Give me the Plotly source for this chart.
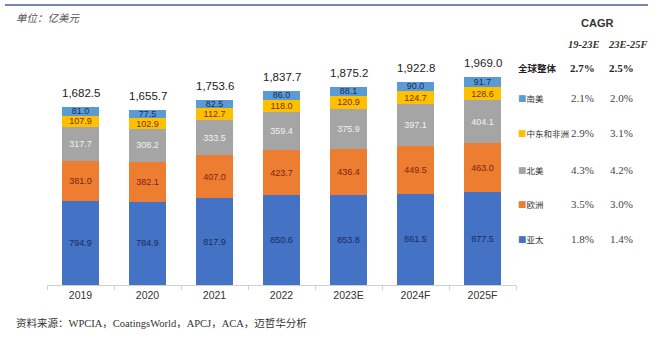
import plotly.graph_objects as go

years = ["2019", "2020", "2021", "2022", "2023E", "2024F", "2025F"]
asia_pacific = [794.9, 784.9, 817.9, 850.6, 853.8, 861.5, 877.5]
europe = [381.0, 382.1, 407.0, 423.7, 436.4, 449.5, 463.0]
north_america = [317.7, 308.2, 333.5, 359.4, 375.9, 397.1, 404.1]
mea = [107.9, 102.9, 112.7, 118.0, 120.9, 124.7, 128.6]
south_america = [81.0, 77.5, 82.5, 86.0, 88.1, 90.0, 91.7]
totals = [1682.5, 1655.7, 1753.6, 1837.7, 1875.2, 1922.8, 1969.0]

region_names = ["南美", "中东和非洲", "北美", "欧洲", "亚太"]
cagr_19_23 = ["2.1%", "2.9%", "4.3%", "3.5%", "1.8%"]
cagr_23_25 = ["2.0%", "3.1%", "4.2%", "3.0%", "1.4%"]
global_cagr = ["2.7%", "2.5%"]

W, H = 660, 339
PL, PR, PT, PB = 47, 516, 65, 285  # plot area in pixels


def px(x):
    return x / W


def py(y):
    return 1 - y / H


colors = {
    "亚太": "#4472C4",
    "欧洲": "#ED7D31",
    "北美": "#A5A5A5",
    "中东和非洲": "#FFC000",
    "南美": "#5B9BD5",
}
text_colors = {
    "亚太": "#1c2a5a",
    "欧洲": "#7a2410",
    "北美": "#f2f2f2",
    "中东和非洲": "#7a3000",
    "南美": "#1c2a5a",
}
series = [("亚太", asia_pacific), ("欧洲", europe), ("北美", north_america),
          ("中东和非洲", mea), ("南美", south_america)]

fig = go.Figure()
for name, vals in series:
    fig.add_trace(go.Bar(
        x=years, y=vals, name=name,
        marker=dict(color=colors[name], line=dict(width=0)),
        text=[f"{v:.1f}" for v in vals],
        textposition="inside", insidetextanchor="middle",
        textangle=0, constraintext="none",
        textfont=dict(size=9, color=text_colors[name], family="Liberation Sans, Arial"),
        hoverinfo="skip",
    ))

annotations = []
for i, tot in enumerate(totals):
    annotations.append(dict(
        x=i, y=tot, xref="x", yref="y", text=f"{tot:,.1f}", showarrow=False,
        yanchor="bottom", yshift=6,
        font=dict(size=11.5, color="#222222", family="Liberation Sans, Arial"),
    ))

cjk = "Noto Sans CJK SC"
serif = "Liberation Serif, Noto Sans CJK SC"

annotations.append(dict(x=px(14), y=py(18), xref="paper", yref="paper",
                        text="<i>单位：亿美元</i>", showarrow=False,
                        xanchor="left", yanchor="middle",
                        font=dict(size=10.5, color="#555555", family=cjk)))
annotations.append(dict(x=px(14), y=py(323), xref="paper", yref="paper",
                        text="资料来源：WPCIA，CoatingsWorld，APCJ，ACA，迈哲华分析",
                        showarrow=False, xanchor="left", yanchor="middle",
                        font=dict(size=10.5, color="#333333", family=serif)))

# CAGR table
annotations.append(dict(x=px(597), y=py(23), xref="paper", yref="paper",
                        text="<b>CAGR</b>", showarrow=False,
                        xanchor="center", yanchor="middle",
                        font=dict(size=11, color="#333333", family="Liberation Sans, Arial")))
for txt, cx in [("19-23E", 584), ("23E-25F", 628)]:
    annotations.append(dict(x=px(cx), y=py(45), xref="paper", yref="paper",
                            text=f"<b><i>{txt}</i></b>", showarrow=False,
                            xanchor="center", yanchor="middle",
                            font=dict(size=10.5, color="#333333", family=serif)))
annotations.append(dict(x=px(516), y=py(68), xref="paper", yref="paper",
                        text="<b>全球整体</b>", showarrow=False,
                        xanchor="left", yanchor="middle",
                        font=dict(size=9.5, color="#222222", family=cjk)))
for txt, cx in zip(global_cagr, [582, 621]):
    annotations.append(dict(x=px(cx), y=py(68), xref="paper", yref="paper",
                            text=f"<b>{txt}</b>", showarrow=False,
                            xanchor="center", yanchor="middle",
                            font=dict(size=11, color="#222222", family=serif)))

row_y = [98, 133, 170, 204, 239]
for name, a, b, ry in zip(region_names, cagr_19_23, cagr_23_25, row_y):
    annotations.append(dict(x=px(516), y=py(ry), xref="paper", yref="paper",
                            text=f"<span style='color:{colors[name]}'>■</span>{name}",
                            showarrow=False, xanchor="left", yanchor="middle",
                            font=dict(size=8.5, color="#333333", family=cjk)))
    for txt, cx in zip([a, b], [582, 621]):
        annotations.append(dict(x=px(cx), y=py(ry), xref="paper", yref="paper",
                                text=txt, showarrow=False,
                                xanchor="center", yanchor="middle",
                                font=dict(size=11, color="#444444", family=serif)))

shapes = [dict(type="line", xref="paper", yref="paper", layer="above",
               x0=px(5), x1=px(648), y0=py(5), y1=py(5),
               line=dict(color="#7486b0", width=2))]

fig.update_layout(
    width=W, height=H,
    margin=dict(l=0, r=0, t=0, b=0),
    barmode="stack", bargap=0.44,
    showlegend=False,
    plot_bgcolor="white", paper_bgcolor="white",
    xaxis=dict(type="category", domain=[PL / W, PR / W],
               showline=True, linecolor="#d0d0d0", linewidth=1,
               ticks="outside", tickson="boundaries", ticklen=4, tickcolor="#d0d0d0",
               tickfont=dict(size=10.5, color="#333333", family="Liberation Sans, Arial"),
               showgrid=False, range=[-0.5, 6.5]),
    yaxis=dict(range=[0, 2080], visible=False, showgrid=False,
               domain=[1 - PB / H, 1 - PT / H]),
    annotations=annotations, shapes=shapes,
)

fig.write_html("out.html")
